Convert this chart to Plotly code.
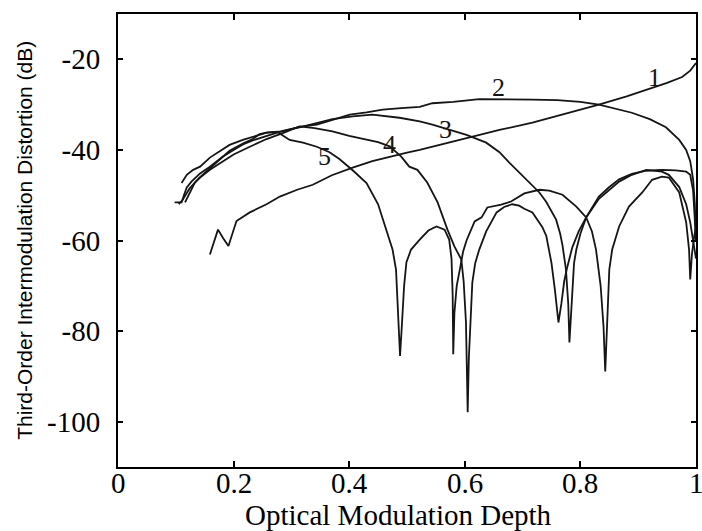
import plotly.graph_objects as go

# Optical modulation depth (x) and third-order IMD in dB (y) for curves 1-5
omd_1 = [0.159, 0.173, 0.182, 0.191, 0.205, 0.228, 0.257, 0.280, 0.310, 0.337, 0.370, 0.406,
         0.440, 0.470, 0.500, 0.522, 0.544, 0.580, 0.613, 0.660, 0.717, 0.770, 0.832, 0.880,
         0.924, 0.950, 0.976, 0.990, 1.000]
imd_1 = [-63.1, -57.6, -59.5, -61.2, -55.7, -53.8, -52.0, -50.3, -48.8, -47.7, -45.6, -43.9,
         -42.5, -41.5, -40.6, -40.0, -39.3, -38.2, -37.1, -35.6, -34.0, -32.2, -30.0, -28.2,
         -26.3, -25.2, -23.9, -22.5, -20.8]

omd_2 = [0.110, 0.119, 0.130, 0.142, 0.159, 0.181, 0.193, 0.216, 0.233, 0.257, 0.285, 0.314,
         0.344, 0.371, 0.401, 0.430, 0.458, 0.490, 0.522, 0.544, 0.580, 0.625, 0.680, 0.717,
         0.760, 0.800, 0.832, 0.850, 0.889, 0.920, 0.948, 0.971, 0.983, 0.990, 0.995, 0.998, 1.000]
imd_2 = [-47.3, -45.5, -44.4, -43.7, -41.7, -40.0, -38.9, -37.8, -37.1, -36.2, -35.9, -34.9,
         -34.4, -33.3, -32.2, -31.7, -31.1, -30.8, -30.5, -29.7, -29.4, -28.8, -28.8, -28.9,
         -29.0, -29.4, -30.0, -30.6, -31.8, -33.2, -35.0, -37.8, -40.0, -42.5, -46.5, -52.0, -60.0]

omd_3 = [0.098, 0.110, 0.114, 0.119, 0.127, 0.135, 0.142, 0.159, 0.181, 0.200, 0.216, 0.233,
         0.257, 0.285, 0.314, 0.344, 0.371, 0.406, 0.440, 0.487, 0.522, 0.544, 0.575, 0.603,
         0.637, 0.660, 0.677, 0.703, 0.729, 0.741, 0.751, 0.758, 0.765, 0.769, 0.775, 0.779,
         0.781, 0.784, 0.786, 0.789, 0.793, 0.800, 0.810, 0.832, 0.850, 0.867, 0.889, 0.914,
         0.941, 0.965, 0.983, 0.990, 0.995, 0.998, 1.000]
imd_3 = [-51.6, -51.6, -50.0, -48.3, -47.0, -46.0, -45.2, -43.7, -41.5, -40.0, -38.8, -37.9,
         -36.9, -35.8, -35.0, -34.0, -33.2, -32.6, -32.2, -32.9, -33.7, -34.4, -35.6, -36.7,
         -38.4, -40.5, -42.8, -46.0, -49.4, -51.5, -53.8, -55.4, -58.5, -61.0, -66.4, -74.0,
         -82.5, -76.0, -69.0, -65.0, -62.0, -58.5, -54.9, -50.3, -48.2, -46.5, -45.3, -44.6,
         -44.4, -44.5, -44.8, -45.5, -49.0, -55.0, -60.0]

omd_4 = [0.105, 0.112, 0.119, 0.124, 0.133, 0.142, 0.159, 0.181, 0.200, 0.228, 0.257, 0.285,
         0.314, 0.340, 0.371, 0.400, 0.430, 0.450, 0.470, 0.490, 0.504, 0.518, 0.535, 0.553,
         0.570, 0.582, 0.594, 0.598, 0.602, 0.605, 0.607, 0.610, 0.613, 0.618, 0.625, 0.637,
         0.646, 0.655, 0.668, 0.682, 0.694, 0.703, 0.717, 0.734, 0.741, 0.750, 0.756, 0.762,
         0.767, 0.772, 0.777, 0.786, 0.797, 0.810, 0.832, 0.867, 0.889, 0.914, 0.941, 0.953,
         0.971, 0.983, 0.990, 0.995, 1.000]
imd_4 = [-52.0, -51.0, -49.5, -48.5, -47.2, -46.1, -44.4, -42.5, -41.0, -39.3, -37.6, -36.3,
         -34.8, -35.2, -35.9, -36.9, -37.8, -38.3, -39.2, -41.5, -43.7, -44.4, -47.2, -51.6,
         -57.6, -61.3, -64.2, -69.0, -78.0, -97.9, -86.0, -76.0, -69.3, -65.0, -62.0, -58.0,
         -56.0, -53.8, -52.6, -52.0, -52.3, -53.0, -53.8, -57.0, -59.0, -65.0, -71.0, -78.1,
         -74.0, -69.0, -66.0, -61.5, -58.0, -54.9, -50.8, -47.0, -45.5, -44.4, -44.8, -45.5,
         -48.2, -52.0, -56.0, -60.0, -64.0]

omd_5 = [0.116, 0.124, 0.133, 0.142, 0.159, 0.181, 0.193, 0.216, 0.233, 0.245, 0.257, 0.275,
         0.297, 0.320, 0.344, 0.366, 0.383, 0.406, 0.430, 0.450, 0.464, 0.475, 0.481, 0.485,
         0.488, 0.491, 0.495, 0.499, 0.507, 0.522, 0.537, 0.551, 0.565, 0.573, 0.577, 0.579,
         0.580, 0.582, 0.586, 0.592, 0.597, 0.603, 0.617, 0.629, 0.639, 0.663, 0.680, 0.703,
         0.729, 0.746, 0.769, 0.793, 0.810, 0.820, 0.827, 0.835, 0.840, 0.843, 0.846, 0.850,
         0.855, 0.867, 0.884, 0.907, 0.924, 0.941, 0.953, 0.971, 0.983, 0.988, 0.990, 0.993,
         0.997, 1.000]
imd_5 = [-51.6, -49.5, -47.2, -46.0, -44.0, -41.5, -40.2, -38.6, -37.6, -36.5, -36.2, -36.0,
         -37.8, -38.4, -39.3, -40.5, -42.0, -44.5, -47.3, -52.0, -57.6, -62.0, -66.4, -76.0,
         -85.5, -79.0, -70.0, -64.8, -62.0, -59.8, -57.8, -56.9, -57.6, -59.8, -64.0, -72.0,
         -85.1, -76.0, -70.0, -66.0, -62.5, -60.0, -55.8, -54.9, -52.7, -52.1, -51.4, -49.6,
         -48.8, -49.0, -49.9, -52.5, -54.9, -58.0, -62.0, -70.0, -79.0, -88.9, -78.0, -66.4,
         -62.0, -56.9, -52.5, -49.4, -46.6, -45.9, -46.1, -49.4, -56.0, -62.0, -68.6, -63.0,
         -59.0, -57.0]

series = [(omd_1, imd_1), (omd_2, imd_2), (omd_3, imd_3), (omd_4, imd_4), (omd_5, imd_5)]

# Curve number labels and where they sit
curve_labels = ["1", "2", "3", "4", "5"]
label_x = [0.929, 0.659, 0.567, 0.469, 0.357]
label_y = [-24.1, -26.3, -35.6, -38.9, -41.5]

x_ticks = [0, 0.2, 0.4, 0.6, 0.8, 1]
x_tick_text = ["0", "0.2", "0.4", "0.6", "0.8", "1"]
y_ticks = [-100, -80, -60, -40, -20]
y_tick_text = ["-100", "-80", "-60", "-40", "-20"]

SERIF = "Liberation Serif, Times New Roman, serif"
SANS = "Liberation Sans, Arial, sans-serif"
INK = "#151515"

fig = go.Figure()
for xs, ys in series:
    fig.add_trace(go.Scatter(x=xs, y=ys, mode="lines",
                             line=dict(color=INK, width=1.8),
                             showlegend=False, hoverinfo="skip"))

for txt, lx, ly in zip(curve_labels, label_x, label_y):
    fig.add_annotation(x=lx, y=ly, text=txt, showarrow=False,
                       font=dict(family=SERIF, size=26, color=INK),
                       xanchor="center", yanchor="middle")

# x tick labels sit tight under the axis line
for tv, tt in zip(x_ticks, x_tick_text):
    fig.add_annotation(x=tv, xref="x", y=0, yref="paper", text=tt, showarrow=False,
                       font=dict(family=SERIF, size=29, color="black"),
                       xanchor="center", yanchor="top", yshift=2)

axis_common = dict(showline=True, linecolor="black", linewidth=2, mirror="ticks",
                   ticks="inside", tickcolor="black", tickwidth=1.5,
                   showgrid=False, zeroline=False, tickmode="array",
                   tickfont=dict(family=SERIF, size=29, color="black"))

fig.update_xaxes(range=[0, 1], tickvals=x_ticks, ticktext=x_tick_text, ticklen=6,
                 showticklabels=False, **axis_common)
fig.update_yaxes(range=[-110, -10], tickvals=y_ticks, ticktext=y_tick_text, ticklen=5,
                 ticklabelstandoff=10, **axis_common)

# Axis titles
fig.add_annotation(xref="paper", yref="paper", x=0.485, y=-0.105,
                   text="Optical Modulation Depth", showarrow=False,
                   font=dict(family=SERIF, size=29, color="black"),
                   xanchor="center", yanchor="middle")
fig.add_annotation(xref="paper", yref="paper", x=-0.162, y=0.50,
                   text="Third-Order Intermodulation Distortion (dB)", showarrow=False,
                   textangle=-90, font=dict(family=SANS, size=21, color="black"),
                   xanchor="center", yanchor="middle")

fig.update_layout(width=702, height=531,
                  margin=dict(l=118, r=4, t=14, b=64),
                  paper_bgcolor="white", plot_bgcolor="white")

fig.write_html("out.html")
